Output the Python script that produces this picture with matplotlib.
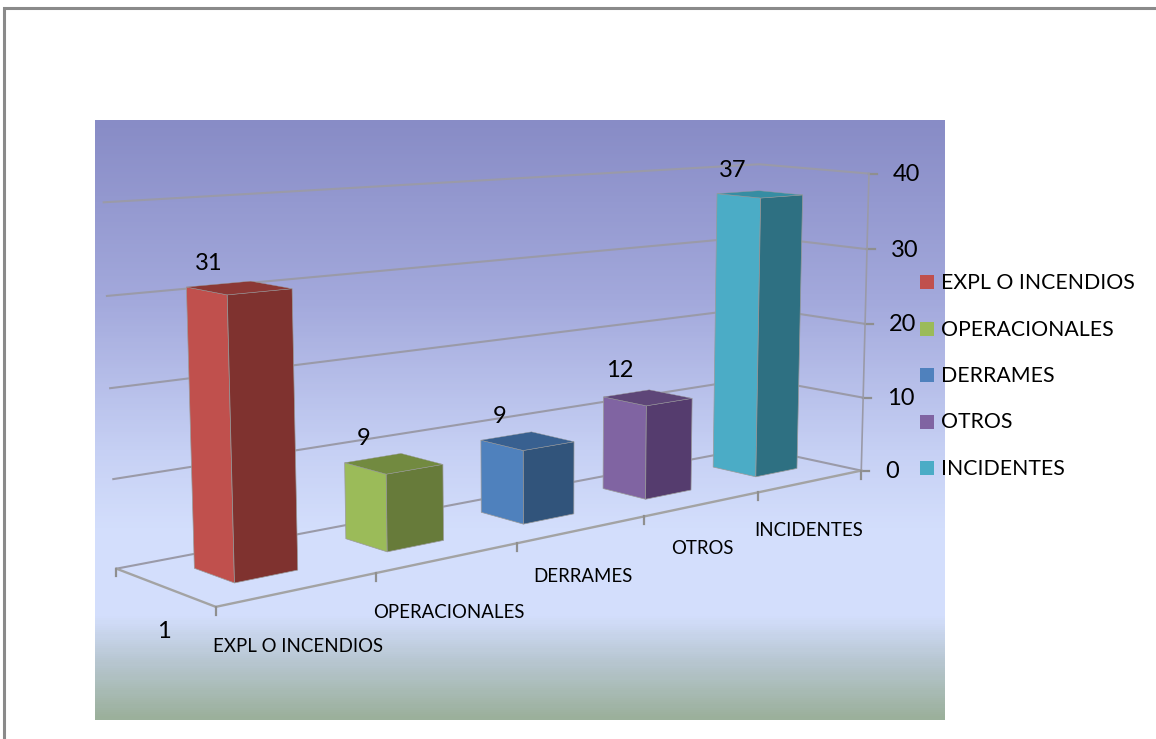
import numpy as np
import matplotlib
matplotlib.use('Agg')
import matplotlib.pyplot as plt
from matplotlib.colors import LinearSegmentedColormap
from matplotlib.patches import Polygon, Rectangle

# datos del grafico
categorias = ['EXPL O INCENDIOS', 'OPERACIONALES', 'DERRAMES', 'OTROS', 'INCIDENTES']
valores = [31, 9, 9, 12, 37]
ticks_valor = [0, 10, 20, 30, 40]
serie = '1'

# colores de cada barra: cara clara, cara oscura, tapa
claros = ['#C0504D', '#9BBB59', '#4F81BD', '#8064A2', '#4BACC6']
oscuros = ['#7F322F', '#677B3A', '#31547B', '#553C6E', '#2E7082']
tapas = ['#8C3835', '#728A40', '#386090', '#5E4678', '#368DA3']

# posiciones de texto en pixeles
pos_cat = [(298, 646), (449, 612), (583, 577), (702, 548), (809, 531)]
desp_dato = [(-27, -25), (-27, -26), (-25, -25), (-26, -27), (-25, -24)]

# calibracion de la perspectiva: (u, v, h) -> pixel
calib = [
    (0, 0, 0, 216, 606), (1, 0, 0, 376, 575), (2, 0, 0, 518, 545),
    (3, 0, 0, 644, 518), (4, 0, 0, 757, 493), (5, 0, 0, 859, 470),
    (0, 1, 0, 116, 567), (5, 1, 0, 757, 448),
    (0, 1, 40, 103, 203), (0, 1, 30, 106, 296), (0, 1, 20, 110, 387), (0, 1, 10, 113, 478),
    (5, 1, 40, 757, 166), (5, 1, 30, 757, 237), (5, 1, 20, 757, 307), (5, 1, 10, 757, 378),
    (5, 0, 40, 871, 173), (5, 0, 30, 868, 248), (5, 0, 20, 865, 323), (5, 0, 10, 862, 396),
    # esquinas superiores de la primera barra
    (0.32, 0.33, 31, 228, 295), (0.72, 0.33, 31, 293, 289), (0.32, 0.73, 31, 187, 287),
]


def ajustar_camara(puntos):
    A, b = [], []
    for u, v, h, x, y in puntos:
        A.append([u, v, h, 1, 0, 0, 0, 0, -x*u, -x*v, -x*h])
        b.append(x)
        A.append([0, 0, 0, 0, u, v, h, 1, -y*u, -y*v, -y*h])
        b.append(y)
    p = np.linalg.lstsq(np.array(A, float), np.array(b, float), rcond=None)[0]
    return np.append(p, 1).reshape(3, 4)


P = ajustar_camara(calib)


def proy(u, v, h):
    x, y, w = P @ np.array([u, v, h, 1.0])
    return x/w, y/w


fig = plt.figure(figsize=(11.56, 7.39), dpi=100)
ax = fig.add_axes([0, 0, 1, 1])
plt.rcParams['font.family'] = ['Lato', 'DejaVu Sans']

# fondo degradado
cmap = LinearSegmentedColormap.from_list('fondo', [
    (0.0, '#888CC6'), (0.30, '#A3A9DC'), (0.55, '#C6D0F4'), (0.68, '#D3DEFC'),
    (0.83, '#D3DEFC'), (0.90, '#B9C8D4'), (1.0, '#9BB09B')])
ax.imshow(np.linspace(0, 1, 300).reshape(-1, 1), cmap=cmap, aspect='auto',
          extent=(95, 945, 720, 120), zorder=0)

# borde de la pagina
ax.plot([4, 4, 1156], [739, 7.5, 7.5], color='#8A8A8A', lw=2.2, zorder=1, solid_joinstyle='miter')

ax.set_xlim(0, 1156)
ax.set_ylim(739, 0)
ax.axis('off')

color_rej = '#9A9AA8'
color_eje = '#A3A3A3'

# rejilla de las dos paredes
for t in ticks_valor:
    a, b, c = proy(0, 1, t), proy(5, 1, t), proy(5, 0, t)
    ax.plot([a[0], b[0], c[0]], [a[1], b[1], c[1]], color=color_rej, lw=1.5, zorder=2)
    ax.plot([c[0], c[0]+8], [c[1], c[1]], color='#8F8F8F', lw=1.6, zorder=2)
    ax.text(c[0]+24, c[1]+1, str(t), ha='left', va='center', fontsize=17, color='black', zorder=6)

# vertical del eje de valores
r0, r1 = proy(5, 0, 0), proy(5, 0, 40)
ax.plot([r0[0], r1[0]], [r0[1], r1[1]], color=color_rej, lw=1.2, zorder=2)

# suelo
l0, f0 = proy(0, 1, 0), proy(0, 0, 0)
ax.plot([l0[0], f0[0], r0[0]], [l0[1], f0[1], r0[1]], color=color_eje, lw=1.7, zorder=2)
ax.plot([l0[0], l0[0]], [l0[1], l0[1]+7], color='#8F8F8F', lw=1.6, zorder=2)
for i in range(len(categorias)+1):
    px, py = proy(i, 0, 0)
    ax.plot([px, px], [py, py+8], color='#8F8F8F', lw=1.6, zorder=2)

# barras
ancho = 0.40
fondo = 0.40
for i, val in enumerate(valores):
    u0, u1 = i+0.52-ancho/2, i+0.52+ancho/2
    v0, v1 = 0.53-fondo/2, 0.53+fondo/2
    izq = [proy(u0, v0, 0), proy(u0, v1, 0), proy(u0, v1, val), proy(u0, v0, val)]
    fre = [proy(u0, v0, 0), proy(u1, v0, 0), proy(u1, v0, val), proy(u0, v0, val)]
    tap = [proy(u0, v0, val), proy(u1, v0, val), proy(u1, v1, val), proy(u0, v1, val)]
    ax.add_patch(Polygon(izq, closed=True, fc=claros[i], ec='#9A9A9A', lw=0.5, zorder=3))
    ax.add_patch(Polygon(fre, closed=True, fc=oscuros[i], ec='#9A9A9A', lw=0.5, zorder=3))
    ax.add_patch(Polygon(tap, closed=True, fc=tapas[i], ec='#9A9A9A', lw=0.3, zorder=3))
    cx, cy = proy(i+0.5, 0.53, val)
    ax.text(cx+desp_dato[i][0], cy+desp_dato[i][1], str(val), ha='center', va='center',
            fontsize=17, color='black', zorder=6)

# etiquetas de categoria
for nombre, (px, py) in zip(categorias, pos_cat):
    ax.text(px, py, nombre, ha='center', va='center', fontsize=13.4, color='black', zorder=6)
ax.text(164, 632, serie, ha='center', va='center', fontsize=17, color='black', zorder=6)

# leyenda
for nombre, col, y in zip(categorias, claros, np.linspace(282, 468, len(categorias))):
    ax.add_patch(Rectangle((920, y-7), 14, 14, fc=col, ec='none', zorder=6))
    ax.text(941, y+1, nombre, ha='left', va='center', fontsize=15.3, color='black', zorder=6)

fig.savefig('out.png', dpi=100)
